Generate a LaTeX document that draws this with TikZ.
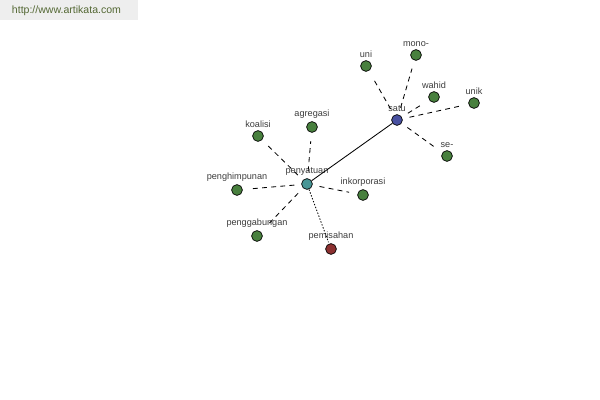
\documentclass[tikz,border=0pt]{standalone}
\usepackage{fontspec}
\setmainfont{Liberation Sans}
\usetikzlibrary{positioning}
\definecolor{dotgreen}{RGB}{72,128,62}
\definecolor{dotteal}{RGB}{72,150,150}
\definecolor{dotblue}{RGB}{72,80,160}
\definecolor{dotred}{RGB}{140,48,48}
\definecolor{lblgray}{RGB}{60,60,60}
\definecolor{webgreen}{RGB}{84,104,52}
\definecolor{headbg}{RGB}{238,238,238}

\begin{document}
\begin{tikzpicture}[
  x=0.025cm, y=-0.025cm,
  font=\fontsize{6.5}{7}\selectfont,
  dot/.style={circle, draw=black, line width=0.5pt, minimum size=0.27cm, inner sep=0pt, fill=dotgreen,
    label={[text=lblgray, inner sep=1pt, label distance=0.5pt]above:#1}},
  syn/.style={black, line width=0.6pt, shorten <=5pt, shorten >=6pt, dash pattern=on 3.5pt off 3pt},
  ant/.style={black, line width=0.6pt, dash pattern=on 1pt off 1.2pt, shorten >=1pt},
  rel/.style={black, line width=0.6pt}
]
\useasboundingbox (0,0) rectangle (600,400);
% header
\node[fill=headbg, minimum width=3.45cm, minimum height=0.5cm, anchor=north west, inner sep=0pt] (web) at (0,0) {};
\node[text=webgreen, font=\fontsize{7.5}{8}\selectfont, anchor=west] (url) at (7,11) {http://www.artikata.com};
% centre words
\node[dot=penyatuan, fill=dotteal] (penyatuan) at (307,184) {};
\node[dot=satu, fill=dotblue] (satu) at (397,120) {};
% around satu
\node[dot=uni] (uni) at (366,66) {};
\node[dot=mono-] (mono) at (416,55) {};
\node[dot=wahid] (wahid) at (434,97) {};
\node[dot=unik] (unik) at (474,103) {};
\node[dot=se-] (se) at (447,156) {};
% around penyatuan
\node[dot=koalisi] (koalisi) at (258,136) {};
\node[dot=agregasi] (agregasi) at (312,127) {};
\node[dot=penghimpunan] (penghimpunan) at (237,190) {};
\node[dot=inkorporasi] (inkorporasi) at (363,195) {};
\node[dot=penggabungan] (penggabungan) at (257,236) {};
\node[dot=pemisahan, fill=dotred] (pemisahan) at (331,249) {};

\draw[rel] (penyatuan) -- (satu);
\foreach \w in {uni,mono,wahid,unik,se}
  \draw[syn] (satu) -- (\w);
\foreach \w in {koalisi,agregasi,penghimpunan,inkorporasi,penggabungan}
  \draw[syn] (penyatuan) -- (\w);
\draw[ant] (penyatuan) -- (pemisahan);
\end{tikzpicture}
\end{document}
